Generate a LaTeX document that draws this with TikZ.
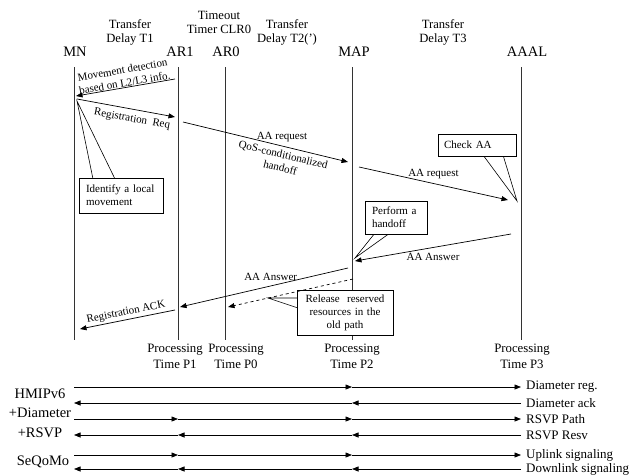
\documentclass[tikz,border=0pt]{standalone}
\usepackage{fontspec}
\setmainfont{Liberation Serif}
\usetikzlibrary{arrows.meta}
\begin{document}
\begin{tikzpicture}[x=1pt, y=-1pt,
    ent/.style={font=\fontsize{14.5}{16}\selectfont},
    hdr/.style={align=center, font=\fontsize{12.6}{14}\selectfont},
    proc/.style={align=center, font=\fontsize{12.8}{16}\selectfont},
    txt/.style={font=\fontsize{11}{13}\selectfont, inner sep=1.5pt, align=center},
    note/.style={draw, fill=white, font=\fontsize{11}{13}\selectfont, line width=0.6pt},
    life/.style={line width=0.8pt, black!80},
    msg/.style={-{Triangle[length=6.5pt, width=5pt]}, line width=0.7pt},
    proto/.style={font=\fontsize{14.5}{19.5}\selectfont, align=center},
    sig/.style={font=\fontsize{13}{15}\selectfont, anchor=west, inner sep=1pt}]

    \useasboundingbox (0,0) rectangle (631,474);

    \node[ent] (mn) at (75,52) {MN};
    \node[ent] (ar1) at (180,52) {AR1};
    \node[ent] (ar0) at (226,52) {AR0};
    \node[ent] (map) at (354,52) {MAP};
    \node[ent] (aaal) at (527,52) {AAAL};

    \node[hdr] (t1) at (130,32) {Transfer\\Delay T1};
    \node[hdr] (clr) at (219,22) {Timeout\\Timer CLR0};
    \node[hdr] (t2) at (287,32) {Transfer\\Delay T2(')};
    \node[hdr] (t3) at (443,32) {Transfer\\Delay T3};

    \foreach \n/\x in {mn/74, ar1/178, ar0/225, map/352, aaal/521} {
        \coordinate (\n-top) at (\x,67);
        \coordinate (\n-bot) at (\x,340);
        \draw[life] (\n-top) -- (\n-bot);
    }

    \node[proc] (p1) at (175,356) {Processing\\Time P1};
    \node[proc] (p0) at (236,356) {Processing\\Time P0};
    \node[proc] (p2) at (352,356) {Processing\\Time P2};
    \node[proc] (p3) at (522,356) {Processing\\Time P3};

    \coordinate (mv1) at (175,79);   \coordinate (mv2) at (76,96);
    \coordinate (rq1) at (77,99);    \coordinate (rq2) at (175,117);
    \coordinate (aq1) at (183,122);  \coordinate (aq2) at (348,162);
    \coordinate (aq3) at (359,167);  \coordinate (aq4) at (508,200);
    \coordinate (an1) at (511,234);  \coordinate (an2) at (355,261);
    \coordinate (an3) at (348,268);  \coordinate (an4) at (180,307);
    \coordinate (rl1) at (353,279);  \coordinate (rl2) at (228,307);
    \coordinate (ak1) at (175,310);  \coordinate (ak2) at (80,329);

    \coordinate (idtip) at (77,101);
    \coordinate (chtip) at (517,201);
    \coordinate (pftip) at (355,258);
    \coordinate (rltip) at (268,298);

    \draw[fill=white, line width=0.6pt] (93,179) -- (idtip) -- (115,179);
    \draw[fill=white, line width=0.6pt] (483,155) -- (chtip) -- (503,155);
    \draw[fill=white, line width=0.6pt] (375,233) -- (pftip) -- (390,233);
    \draw[fill=white, line width=0.6pt] (298,298) -- (rltip) -- (298,308);

    \node[note, minimum width=84pt, minimum height=35pt, text width=70pt, align=left] (ident) at (121,195.5) {Identify a local\\movement};
    \node[note, minimum width=78pt, minimum height=22pt, text width=66pt, align=left] (check) at (477,145) {Check AA};
    \node[note, minimum width=62pt, minimum height=33pt, text width=48pt, align=left] (perf) at (396,217.5) {Perform a\\handoff};
    \node[note, minimum width=96pt, minimum height=45pt, text width=88pt, align=center] (rel) at (345,312.5) {Release\ \ reserved\\resources in the\\old path};

    \draw[msg] (mv1) -- (mv2) node[txt, midway, sloped, above, inner sep=0.5pt] (mvl) {Movement detection\\based on L2/L3 info.};
    \draw[msg] (rq1) -- (rq2) node[txt, pos=0.58, sloped, below, inner sep=5pt] (rql) {Registration\ \ Req};
    \draw[msg] (aq1) -- (aq2) node[txt, pos=0.6, above, inner sep=4pt] (aql) {AA request}
        node[txt, pos=0.62, sloped, below, inner sep=4pt] (qos) {QoS-conditionalized\\handoff};
    \draw[msg] (aq3) -- (aq4) node[txt, midway, above, inner sep=4pt] (aql2) {AA request};
    \draw[msg] (an1) -- (an2) node[txt, midway, below, inner sep=5pt] (anl) {AA Answer};
    \draw[msg] (an3) -- (an4) node[txt, pos=0.46, above, inner sep=5pt] (anl2) {AA Answer};
    \draw[msg, dashed] (rl1) -- (rl2);
    \draw[msg] (ak1) -- (ak2) node[txt, midway, sloped, above, inner sep=2pt] (akl) {Registration ACK};

    \foreach \r/\y in {1/387, 2/403, 3/419, 4/435, 5/455, 6/469}
        \foreach \n/\x in {mn/74, ar1/178, map/352, aaal/521}
            \coordinate (\n-\r) at (\x,\y);

    \draw[msg] (mn-1) -- (map-1);
    \draw[msg] (map-1) -- (aaal-1);
    \draw[msg] (aaal-2) -- (map-2);
    \draw[msg] (map-2) -- (mn-2);
    \foreach \r in {3,5} {
        \draw[msg] (mn-\r) -- (ar1-\r);
        \draw[msg] (ar1-\r) -- (map-\r);
        \draw[msg] (map-\r) -- (aaal-\r);
    }
    \foreach \r in {4,6} {
        \draw[msg] (aaal-\r) -- (map-\r);
        \draw[msg] (map-\r) -- (ar1-\r);
        \draw[msg] (ar1-\r) -- (mn-\r);
    }

    \node[sig] (s1) at (525,387) {Diameter reg.};
    \node[sig] (s2) at (525,403) {Diameter ack};
    \node[sig] (s3) at (525,419) {RSVP Path};
    \node[sig] (s4) at (525,435) {RSVP Resv};
    \node[sig] (s5) at (525,455) {Uplink signaling};
    \node[sig] (s6) at (525,469) {Downlink signaling};

    \node[proto] (hmip) at (40,413) {HMIPv6\\+Diameter\\+RSVP};
    \node[proto] (seq) at (43,462) {SeQoMo};
\end{tikzpicture}
\end{document}
